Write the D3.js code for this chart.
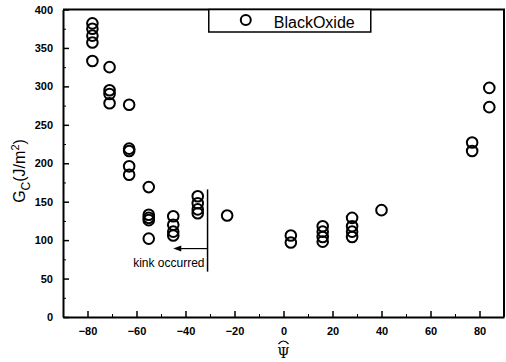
<!DOCTYPE html>
<html>
<head>
<meta charset="utf-8">
<script src="https://cdn.jsdelivr.net/npm/d3@7"></script>
<style>
  body { margin: 0; background: #fff; }
  svg { display: block; }
</style>
</head>
<body>
<svg id="mainsvg" width="506" height="362"></svg>
<script>
// data
const psi = [
  -78, -78, -78, -78, -78,
  -71, -71, -71, -71,
  -63, -63, -63, -63, -63,
  -55, -55, -55, -55, -55,
  -45, -45, -45, -45,
  -35, -35, -35, -35,
  -23,
  3, 3,
  16, 16, 16, 16,
  28, 28, 28, 28,
  40,
  77, 77,
  84, 84
];
const gc = [
  382, 375, 366, 357, 333,
  325, 295, 290, 278,
  276, 219, 216, 196, 185,
  169, 133, 129, 126, 102,
  131, 120, 111, 106,
  157, 148, 140, 135,
  132,
  106, 97,
  118, 111, 104, 98,
  129, 118, 111, 104,
  139,
  227, 216,
  298, 273
];
const xTicks = [-80, -60, -40, -20, 0, 20, 40, 60, 80];
const xMinor = [-70, -50, -30, -10, 10, 30, 50, 70];
const yTicks = [0, 50, 100, 150, 200, 250, 300, 350, 400];
const yMinor = [25, 75, 125, 175, 225, 275, 325, 375];
const seriesName = 'BlackOxide';
// kink annotation: vertical marker and arrow
const kink = { x: -31, yTop: 166, yBottom: 59, arrowTo: -45, arrowY: 89, label: 'kink occurred' };

const svg = d3.select('#mainsvg'),
  width = +svg.attr('width'),
  height = +svg.attr('height'),
  margin = { top: 9.5, right: 2, bottom: 45, left: 63 },
  innerWidth = width - margin.left - margin.right,
  innerHeight = height - margin.top - margin.bottom;

const g = svg.append('g')
  .attr('transform', `translate(${margin.left},${margin.top})`);

const x = d3.scaleLinear().domain([-90, 90]).range([0, innerWidth]);
const y = d3.scaleLinear().domain([0, 400]).range([innerHeight, 0]);

// minor ticks (no labels)
g.append('g')
  .attr('transform', `translate(0,${innerHeight})`)
  .call(d3.axisBottom(x).tickValues(xMinor).tickSize(-3))
  .call(a => { a.select('.domain').remove(); a.selectAll('text').remove(); });
g.append('g')
  .call(d3.axisLeft(y).tickValues(yMinor).tickSize(-3))
  .call(a => { a.select('.domain').remove(); a.selectAll('text').remove(); });

// major ticks
const xAxis = g.append('g')
  .attr('transform', `translate(0,${innerHeight})`)
  .call(d3.axisBottom(x).tickValues(xTicks).tickSize(-6).tickPadding(10).tickSizeOuter(0));
const yAxis = g.append('g')
  .call(d3.axisLeft(y).tickValues(yTicks).tickSize(-6).tickPadding(10).tickSizeOuter(0));

[xAxis, yAxis].forEach(a => {
  a.selectAll('line').attr('stroke', '#000').attr('stroke-width', 1.5);
  a.select('.domain').attr('stroke-width', 2);
  a.selectAll('text')
    .attr('font-family', 'Liberation Sans, Arial, sans-serif')
    .attr('font-size', 11)
    .attr('font-weight', 'bold')
    .attr('fill', '#000');
});

// frame top and right
g.append('path')
  .attr('d', `M0,0H${innerWidth}V${innerHeight}`)
  .attr('fill', 'none')
  .attr('stroke', '#000')
  .attr('stroke-width', 2);

// points
g.selectAll('circle.pt')
  .data(psi.map((p, i) => ({ p, v: gc[i] })))
  .join('circle')
  .attr('class', 'pt')
  .attr('cx', d => x(d.p))
  .attr('cy', d => y(d.v))
  .attr('r', 5.3)
  .attr('fill', 'none')
  .attr('stroke', '#000')
  .attr('stroke-width', 2);

// kink annotation
g.append('line')
  .attr('x1', x(kink.x)).attr('x2', x(kink.x))
  .attr('y1', y(kink.yTop)).attr('y2', y(kink.yBottom))
  .attr('stroke', '#000').attr('stroke-width', 1.5);
g.append('line')
  .attr('x1', x(kink.x)).attr('x2', x(kink.arrowTo) + 6)
  .attr('y1', y(kink.arrowY)).attr('y2', y(kink.arrowY))
  .attr('stroke', '#000').attr('stroke-width', 1.2);
g.append('path')
  .attr('d', `M${x(kink.arrowTo)},${y(kink.arrowY)}l8,-3v6z`)
  .attr('fill', '#000');
g.append('text')
  .attr('x', x(kink.x) - 3)
  .attr('y', y(kink.yBottom) - 5)
  .attr('text-anchor', 'end')
  .attr('font-family', 'Liberation Sans, Arial, sans-serif')
  .attr('font-size', 12)
  .text(kink.label);

// legend
const lg = g.append('g').attr('transform', `translate(${x(-30.5)},0)`);
lg.append('rect')
  .attr('width', 162).attr('height', 22.5)
  .attr('fill', '#fff').attr('stroke', '#000').attr('stroke-width', 1.5);
lg.append('circle')
  .attr('cx', 37).attr('cy', 10.5).attr('r', 5)
  .attr('fill', 'none').attr('stroke', '#000').attr('stroke-width', 2);
lg.append('text')
  .attr('x', 65).attr('y', 18.5)
  .attr('font-family', 'Liberation Sans, Arial, sans-serif')
  .attr('font-size', 16)
  .text(seriesName);

// axis titles
const yt = svg.append('text')
  .attr('transform', `translate(25,171) rotate(-90)`)
  .attr('text-anchor', 'middle')
  .attr('font-family', 'Liberation Sans, Arial, sans-serif')
  .attr('font-size', 16);
yt.append('tspan').text('G');
yt.append('tspan').attr('font-size', 12).attr('dy', 5).text('C');
yt.append('tspan').attr('dy', -5).text('(J/m');
yt.append('tspan').attr('font-size', 11).attr('dy', -6).text('2');
yt.append('tspan').attr('dy', 6).text(')');

const psiX = margin.left + x(0);
svg.append('text')
  .attr('x', psiX)
  .attr('y', 358)
  .attr('text-anchor', 'middle')
  .attr('font-family', 'DejaVu Serif, serif')
  .attr('font-size', 14)
  .text('\u03A8');
// arc over the psi
svg.append('path')
  .attr('d', `M${psiX - 5},${344}Q${psiX},${338} ${psiX + 5},${344}`)
  .attr('fill', 'none')
  .attr('stroke', '#000')
  .attr('stroke-width', 1.2);
</script>
</body>
</html>
